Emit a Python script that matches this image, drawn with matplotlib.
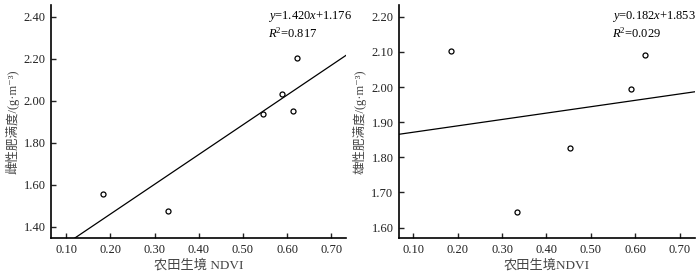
import matplotlib
matplotlib.use("Agg")
import matplotlib.pyplot as plt
import numpy as np

plt.rcParams['font.family'] = ['Liberation Serif', 'Noto Sans CJK SC', 'DejaVu Serif']
plt.rcParams['mathtext.fontset'] = 'custom'
plt.rcParams['mathtext.rm'] = 'Liberation Serif'
plt.rcParams['mathtext.it'] = 'Liberation Serif:italic'
plt.rcParams['axes.unicode_minus'] = False

# female (left) panel
ndvi_f = [0.183, 0.331, 0.545, 0.589, 0.614, 0.623]
fat_f = [1.556, 1.473, 1.935, 2.035, 1.952, 2.202]
slope_f, icpt_f, r2_f = 1.420, 1.176, 0.817

# male (right) panel
ndvi_m = [0.185, 0.333, 0.453, 0.590, 0.622]
fat_m = [2.102, 1.645, 1.827, 1.994, 2.090]
slope_m, icpt_m, r2_m = 0.182, 1.853, 0.029

xticks = [0.10, 0.20, 0.30, 0.40, 0.50, 0.60, 0.70]
yticks_f = [1.40, 1.60, 1.80, 2.00, 2.20, 2.40]
yticks_m = [1.60, 1.70, 1.80, 1.90, 2.00, 2.10, 2.20]

fig = plt.figure(figsize=(7, 2.73), dpi=100)
ax1 = fig.add_axes([0.0729, 0.128, 0.4214, 0.853])
ax2 = fig.add_axes([0.570, 0.128, 0.423, 0.853])


def panel(ax, xs, ys, slope, icpt, r2, yticks, ylim, xlim, ylabel, xlabel, tx):
    xl = np.linspace(xlim[0], xlim[1], 50)
    ax.plot(xl, slope * xl + icpt, color='black', lw=0.9)
    ax.plot(xs, ys, 'o', mfc='white', mec='black', ms=3.6, mew=0.9, ls='none')
    ax.set_xlim(*xlim)
    ax.set_ylim(*ylim)
    ax.set_xticks(xticks)
    ax.set_xticklabels(['%.2f' % v for v in xticks])
    ax.set_yticks(yticks)
    ax.set_yticklabels(['%.2f' % v for v in yticks])
    ax.spines['top'].set_visible(False)
    ax.spines['right'].set_visible(False)
    for s in ('left', 'bottom'):
        ax.spines[s].set_linewidth(1.2)
    ax.tick_params(direction='in', length=3.5, width=1.0, labelsize=9,
                   colors='#222222', pad=4)
    ax.set_ylabel(ylabel, fontsize=9, color='#444444', labelpad=3)
    ax.set_xlabel(xlabel, fontsize=9.5, color='#444444', labelpad=2)
    ax.text(tx, 0.985, r'$y$=%.3f$x$+%.3f' % (slope, icpt), transform=ax.transAxes,
            fontsize=9, va='top', ha='left', clip_on=False)
    ax.text(tx, 0.91, r'$R$$^{2}$=%.3f' % r2, transform=ax.transAxes,
            fontsize=9, va='top', ha='left', clip_on=False)


panel(ax1, ndvi_f, fat_f, slope_f, icpt_f, r2_f, yticks_f, (1.346, 2.456),
      (0.066, 0.733), '雌性肥满度/(g·m⁻³)', '农田生境 NDVI', 0.735)
panel(ax2, ndvi_m, fat_m, slope_m, icpt_m, r2_m, yticks_m, (1.570, 2.233),
      (0.0685, 0.734), '雄性肥满度/(g·m⁻³)', '农田生境NDVI', 0.72)

fig.savefig('out.png', dpi=100)
